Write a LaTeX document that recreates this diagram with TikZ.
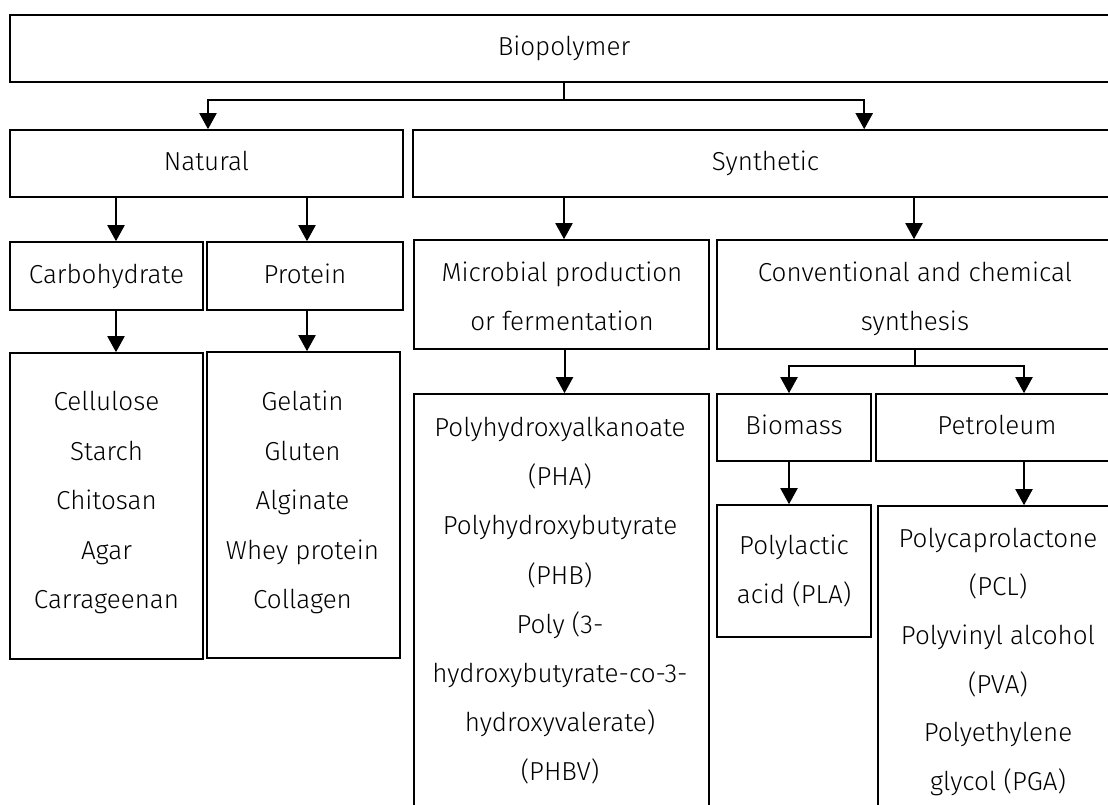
\documentclass[tikz,border=0pt]{standalone}
\usepackage{fontspec}
\setmainfont{Fira Sans Light}
\usetikzlibrary{arrows.meta}
\begin{document}
\begin{tikzpicture}[x=1pt,y=-1pt,
  box/.style={draw=black, line width=1.6pt, rectangle, inner sep=0pt,
    text height=18pt, text depth=3.6pt, font=\fontsize{26}{30}\selectfont},
  txt/.style={anchor=base, inner sep=0pt, font=\fontsize{26}{30}\selectfont},
  ln/.style={line width=2pt},
  arr/.style={line width=2pt, -{Triangle[width=17pt,length=16pt]}}]
\useasboundingbox (0,0) rectangle (1108,804);
\fill[white] (0,0) rectangle (1108,804);
\clip (0,0) rectangle (1108,804);

% boxes
\node[box, minimum width=1108pt, minimum height=67pt] (bio) at (564,48.5) {Biopolymer};
\node[box, minimum width=393pt, minimum height=67pt] (nat) at (206.5,163.5) {Natural};
\node[box, minimum width=705pt, minimum height=67pt] (syn) at (765.5,163.5) {Synthetic};
\node[box, minimum width=193pt, minimum height=68pt] (carb) at (106.5,276) {Carbohydrate};
\node[box, minimum width=196pt, minimum height=68pt] (prot) at (305,276) {Protein};
\node[box, minimum width=193pt, minimum height=306pt] (cell) at (106.5,506) {};
\node[box, minimum width=193pt, minimum height=306pt] (gel) at (303.5,505) {};
\node[box, minimum width=295pt, minimum height=109pt] (mic) at (561.5,294.5) {};
\node[box, minimum width=401pt, minimum height=109pt] (conv) at (917.5,294.5) {};
\node[box, minimum width=154pt, minimum height=67pt] (bmass) at (794,427.5) {Biomass};
\node[box, minimum width=242pt, minimum height=67pt] (petr) at (997,427.5) {Petroleum};
\node[box, minimum width=295pt, minimum height=436pt] (pha) at (561.5,612) {};
\node[box, minimum width=154pt, minimum height=132pt] (pla) at (794,571) {};
\node[box, minimum width=240pt, minimum height=324pt] (pch) at (998,668) {};

% texts of the multi-line boxes
\node[txt] (mict1) at (562,281) {Microbial production};
\node[txt] (mict2) at (562,330.5) {or fermentation};
\node[txt] (convt1) at (915,281) {Conventional and chemical};
\node[txt] (convt2) at (915,330.5) {synthesis};
\foreach \t [count=\i from 0] in {Cellulose,Starch,Chitosan,Agar,Carrageenan}
  \node[txt] (cellt\i) at (106.5,410.5+49.5*\i) {\t};
\foreach \t [count=\i from 0] in {Gelatin,Gluten,Alginate,Whey protein,Collagen}
  \node[txt] (gelt\i) at (302.5,410.5+49.5*\i) {\t};
\foreach \t [count=\i from 0] in {Polyhydroxyalkanoate,(PHA),Polyhydroxybutyrate,(PHB),Poly (3-,hydroxybutyrate-co-3-,hydroxyvalerate),(PHBV)}
  \node[txt] (phat\i) at (560,436.5+49.2*\i) {\t};
\node[txt] (plat1) at (794,554) {Polylactic};
\node[txt] (plat2) at (794,603.5) {acid (PLA)};
\foreach \t [count=\i from 0] in {Polycaprolactone,(PCL),Polyvinyl alcohol,(PVA),Polyethylene,glycol (PGA)}
  \node[txt] (pcht\i) at (998,547+48.7*\i) {\t};

% connectors
\coordinate (y1) at (0,100);
\coordinate (j1) at (bio.south |- y1);
\draw[ln] (bio.south) -- (j1);
\coordinate (na) at ([xshift=1.5pt]nat.north);
\coordinate (sa) at ([xshift=452pt]syn.north west);
\draw[arr] (j1) -| (na);
\draw[arr] (j1) -| (sa);

\coordinate (ca) at ([xshift=9.5pt]carb.north);
\coordinate (pra) at ([xshift=2pt]prot.north);
\draw[arr] (ca |- nat.south) -- (ca);
\draw[arr] (pra |- nat.south) -- (pra);
\coordinate (cea) at ([xshift=9.5pt]cell.north);
\coordinate (gea) at ([xshift=3.5pt]gel.north);
\draw[arr] (cea |- carb.south) -- (cea);
\draw[arr] (gea |- prot.south) -- (gea);

\coordinate (ma) at ([xshift=2.5pt]mic.north);
\coordinate (cva) at ([xshift=-3.5pt]conv.north);
\draw[arr] (ma |- syn.south) -- (ma);
\draw[arr] (cva |- syn.south) -- (cva);
\coordinate (pha0) at ([xshift=3pt]pha.north);
\draw[arr] (pha0 |- mic.south) -- (pha0);

\coordinate (y2) at (0,366);
\coordinate (j2) at ([xshift=-2.5pt]conv.south |- y2);
\coordinate (cs) at ([xshift=-2.5pt]conv.south);
\draw[ln] (cs) -- (j2);
\coordinate (ba) at ([xshift=-5pt]bmass.north);
\coordinate (pa) at ([xshift=27pt]petr.north);
\draw[arr] (j2) -| (ba);
\draw[arr] (j2) -| (pa);
\coordinate (la) at ([xshift=-5pt]pla.north);
\coordinate (qa) at ([xshift=26pt]pch.north);
\draw[arr] (la |- bmass.south) -- (la);
\draw[arr] (qa |- petr.south) -- (qa);
\end{tikzpicture}
\end{document}
